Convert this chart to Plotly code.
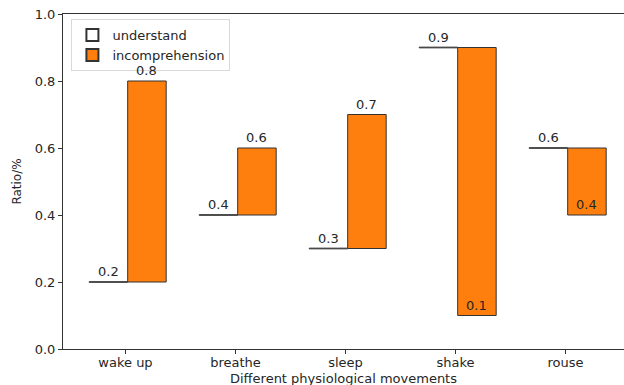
import plotly.graph_objects as go

categories = ["wake up", "breathe", "sleep", "shake", "rouse"]
understand = [0.2, 0.4, 0.3, 0.9, 0.6]
incomprehension = [0.8, 0.6, 0.7, 0.1, 0.4]
y_ticks = [0.0, 0.2, 0.4, 0.6, 0.8, 1.0]

FONT = "DejaVu Sans"
TXT = "#262626"
EDGE = "#333333"
ORANGE = "#ff7f0e"
W = 0.35
x = list(range(len(categories)))

fig = go.Figure()
# understand: drawn as the top edge of a white bar (thin)
fig.add_trace(go.Bar(
    name="understand", x=x, y=[0.002] * len(x), base=[u - 0.001 for u in understand],
    width=W, offset=-0.33,
    marker=dict(color="white", line=dict(color=EDGE, width=1)),
))
fig.add_trace(go.Bar(
    name="incomprehension", x=x,
    y=[b - a for a, b in zip(understand, incomprehension)], base=understand,
    width=W, offset=0.02,
    marker=dict(color=ORANGE, line=dict(color=EDGE, width=1)),
))

for i, (u, v) in enumerate(zip(understand, incomprehension)):
    fig.add_annotation(x=i - 0.33 + W / 2, y=u, text=f"{u:g}", showarrow=False,
                       yanchor="bottom", yshift=1, font=dict(family=FONT, size=13, color=TXT))
    fig.add_annotation(x=i + 0.02 + W / 2, y=v, text=f"{v:g}", showarrow=False,
                       yanchor="bottom", yshift=1, font=dict(family=FONT, size=13, color=TXT))

# x-axis title as annotation for precise placement
fig.add_annotation(xref="paper", yref="paper", x=0.5, y=0, yanchor="middle", yshift=-29,
                   text="Different physiological movements", showarrow=False,
                   font=dict(family=FONT, size=13, color=TXT))

fig.update_layout(
    width=624, height=385,
    margin=dict(l=63, r=0, t=14, b=36, autoexpand=False),
    paper_bgcolor="white", plot_bgcolor="white",
    barmode="overlay",
    font=dict(family=FONT, size=13, color=TXT),
    legend=dict(x=0.015, y=0.985, xanchor="left", yanchor="top",
                bgcolor="white", bordercolor="#d9d9d9", borderwidth=1,
                font=dict(family=FONT, size=13, color=TXT),
                itemsizing="constant", tracegroupgap=0),
    showlegend=True,
)
fig.update_xaxes(
    range=[-0.568, 4.532], tickvals=x, ticktext=categories,
    showline=True, linecolor=EDGE, linewidth=1, mirror=True,
    ticks="outside", ticklen=4, tickcolor=EDGE, showgrid=False, zeroline=False,
    ticklabelstandoff=-3,
    tickfont=dict(family=FONT, size=13, color=TXT),
)
fig.update_yaxes(
    range=[0, 1], tickvals=y_ticks, ticktext=[f"{t:.1f}" for t in y_ticks],
    showline=True, linecolor=EDGE, linewidth=1, mirror=False,
    ticks="outside", ticklen=4, tickcolor=EDGE, showgrid=False, zeroline=False,
    title=dict(text="Ratio/%", standoff=10, font=dict(family=FONT, size=12, color=TXT)),
    tickfont=dict(family=FONT, size=13, color=TXT),
)

fig.write_html("out.html", config={"displayModeBar": False},
               post_script="document.body.style.margin='0';document.body.style.overflow='hidden';")
